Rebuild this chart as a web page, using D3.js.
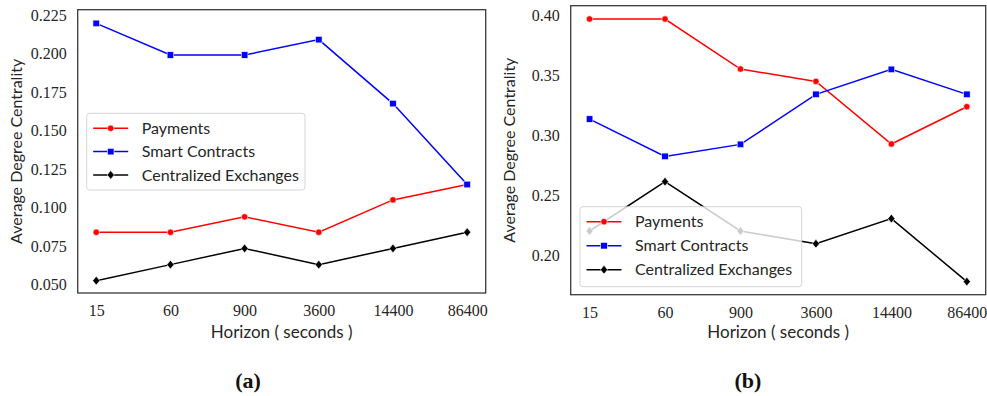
<!DOCTYPE html>
<html>
<head>
<meta charset="utf-8">
<script src="https://cdn.jsdelivr.net/npm/d3@7"></script>
<style>
  body { margin: 0; background: #fff; }
  svg { display: block; }
</style>
</head>
<body>
<svg id="chart"></svg>
<script>
const width = 987;
const height = 396;

// data
const horizons = ["15", "60", "900", "3600", "14400", "86400"];
const seriesNames = ["Payments", "Smart Contracts", "Centralized Exchanges"];

const paymentsA = [0.084, 0.084, 0.094, 0.084, 0.105, 0.115];
const contractsA = [0.2195, 0.199, 0.199, 0.209, 0.1675, 0.115];
const exchangesA = [0.0526, 0.063, 0.0735, 0.063, 0.0735, 0.084];

const paymentsB = [0.3967, 0.3967, 0.355, 0.3447, 0.2925, 0.3236];
const contractsB = [0.3133, 0.2822, 0.2922, 0.3339, 0.3547, 0.3339];
const exchangesB = [0.22, 0.2611, 0.22, 0.2094, 0.2303, 0.1778];

const yTicksA = [0.050, 0.075, 0.100, 0.125, 0.150, 0.175, 0.200, 0.225];
const yTicksB = [0.20, 0.25, 0.30, 0.35, 0.40];

const colors = ["#ff0000", "#0000ff", "#000000"];
const markers = ["circle", "square", "diamond"];
const textColor = "#262626";

const svg = d3.select("#chart").attr("width", width).attr("height", height);

const panels = [
  {
    x0: 77.7, x1: 485.7, y0: 9.7, y1: 293,
    yDomain: [0.0446, 0.2284], ticks: yTicksA, fmt: d3.format(".3f"),
    series: [paymentsA, contractsA, exchangesA],
    legend: { x: 86.7, y: 113.3, w: 218.3, h: 76.7, row: 23.3 },
    caption: "(a)", capX: 248
  },
  {
    x0: 570.7, x1: 985.7, y0: 5.7, y1: 294.7,
    yDomain: [0.1669, 0.4078], ticks: yTicksB, fmt: d3.format(".2f"),
    series: [paymentsB, contractsB, exchangesB],
    legend: { x: 580, y: 206.7, w: 221.7, h: 80, row: 24 },
    caption: "(b)", capX: 748
  }
];

function drawMarker(sel, type, color) {
  if (type === "circle") {
    sel.append("circle").attr("r", 3.2).attr("fill", color)
      .attr("stroke", "#fff").attr("stroke-width", 0.6);
  } else if (type === "square") {
    sel.append("rect").attr("x", -3.3).attr("y", -3.3)
      .attr("width", 6.6).attr("height", 6.6).attr("fill", color)
      .attr("stroke", "#fff").attr("stroke-width", 0.6);
  } else {
    sel.append("path").attr("d", "M0,-4.4L3.6,0L0,4.4L-3.6,0Z")
      .attr("fill", color).attr("stroke", "#fff").attr("stroke-width", 0.6);
  }
}

panels.forEach((p) => {
  const g = svg.append("g");

  const x = d3.scalePoint().domain(horizons).range([p.x0, p.x1]).padding(0.25);
  const y = d3.scaleLinear().domain(p.yDomain).range([p.y1, p.y0]);

  // axes (no tick marks, just labels)
  const yAxis = g.append("g")
    .attr("transform", `translate(${p.x0},0)`)
    .call(d3.axisLeft(y).tickValues(p.ticks).tickFormat(p.fmt).tickSize(0).tickPadding(11));
  const xAxis = g.append("g")
    .attr("transform", `translate(0,${p.y1})`)
    .call(d3.axisBottom(x).tickSize(0).tickPadding(12));

  [yAxis, xAxis].forEach((a) => {
    a.select(".domain").remove();
    a.selectAll("text")
      .attr("fill", textColor)
      .style("font-family", "'Liberation Serif', serif")
      .style("font-size", "16px");
  });

  // series
  const line = d3.line().x((d, i) => x(horizons[i])).y((d) => y(d));
  p.series.forEach((vals, k) => {
    g.append("path")
      .datum(vals)
      .attr("d", line)
      .attr("fill", "none")
      .attr("stroke", colors[k])
      .attr("stroke-width", 1.5);
    g.selectAll(null)
      .data(vals)
      .enter()
      .append("g")
      .attr("transform", (d, i) => `translate(${x(horizons[i])},${y(d)})`)
      .each(function () { drawMarker(d3.select(this), markers[k], colors[k]); });
  });

  // frame
  g.append("rect")
    .attr("x", p.x0).attr("y", p.y0)
    .attr("width", p.x1 - p.x0).attr("height", p.y1 - p.y0)
    .attr("fill", "none").attr("stroke", "#3a3a3a").attr("stroke-width", 1.3);

  // axis titles
  g.append("text")
    .attr("transform", `translate(${p.x0 - 61},${(p.y0 + p.y1) / 2}) rotate(-90)`)
    .attr("text-anchor", "middle")
    .attr("dy", "0.35em")
    .attr("fill", textColor)
    .style("font-family", "Lato, sans-serif")
    .style("font-size", "16px")
    .text("Average Degree Centrality");

  g.append("text")
    .attr("x", (p.x0 + p.x1) / 2)
    .attr("y", 337.5)
    .attr("text-anchor", "middle")
    .attr("fill", textColor)
    .style("font-family", "Lato, sans-serif")
    .style("font-size", "17px")
    .text("Horizon ( seconds )");

  // legend
  const L = p.legend;
  const lg = g.append("g");
  lg.append("rect")
    .attr("x", L.x).attr("y", L.y).attr("width", L.w).attr("height", L.h)
    .attr("rx", 3)
    .attr("fill", "#fff").attr("fill-opacity", 0.8)
    .attr("stroke", "#cccccc").attr("stroke-opacity", 0.8);
  seriesNames.forEach((name, k) => {
    const cy = L.y + 15 + k * L.row;
    lg.append("line")
      .attr("x1", L.x + 6.5).attr("x2", L.x + 41.5)
      .attr("y1", cy).attr("y2", cy)
      .attr("stroke", colors[k]).attr("stroke-width", 1.5);
    drawMarker(lg.append("g").attr("transform", `translate(${L.x + 24},${cy})`), markers[k], colors[k]);
    lg.append("text")
      .attr("x", L.x + 55)
      .attr("y", cy)
      .attr("dy", "0.35em")
      .attr("fill", textColor)
      .style("font-family", "Lato, sans-serif")
      .style("font-size", "16px")
      .text(name);
  });

  // caption
  svg.append("text")
    .attr("x", p.capX)
    .attr("y", 380)
    .attr("dy", "0.35em")
    .attr("text-anchor", "middle")
    .attr("fill", "#111")
    .style("font-family", "'Liberation Serif', serif")
    .style("font-weight", "bold")
    .style("font-size", "22px")
    .text(p.caption);
});
</script>
</body>
</html>
